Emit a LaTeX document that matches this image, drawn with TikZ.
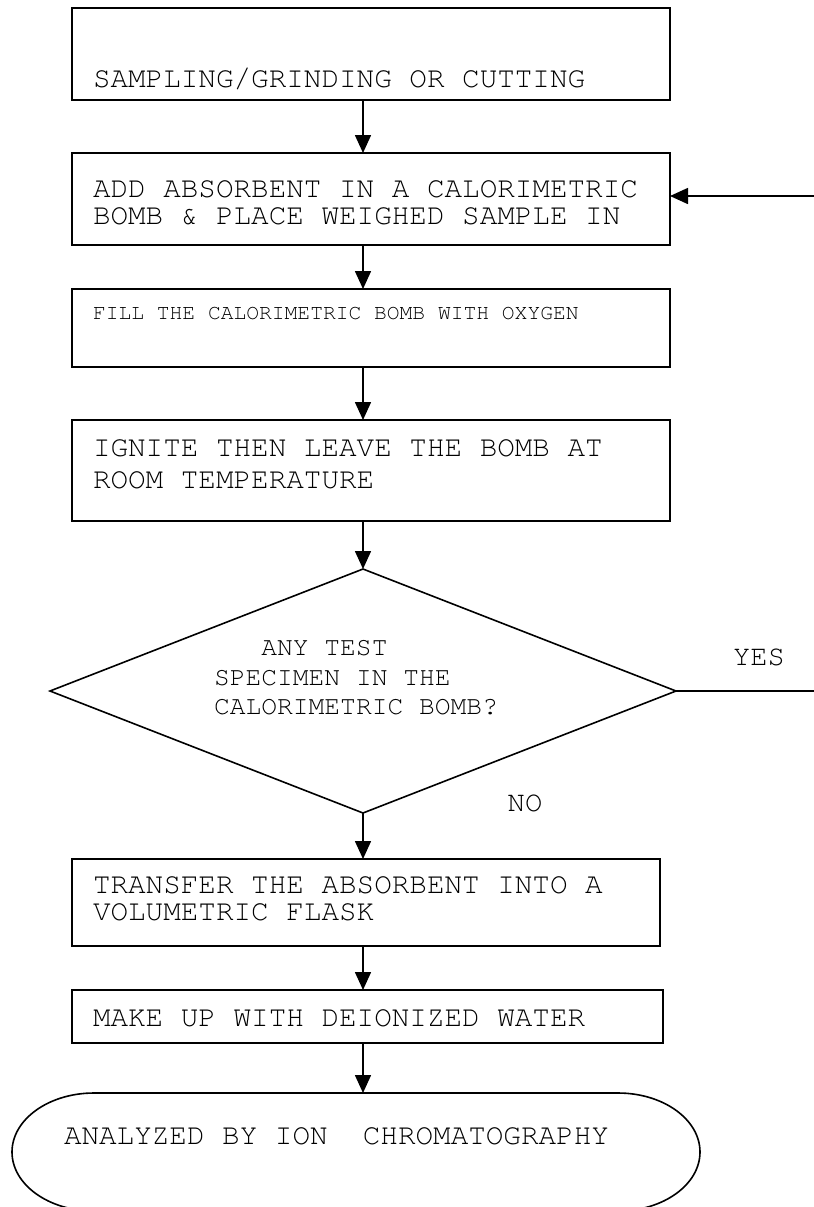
\documentclass[tikz,border=0pt]{standalone}
\usepackage[T1]{fontenc}
\renewcommand{\ttdefault}{pcr}
\usepackage{tikz}
\usetikzlibrary{arrows.meta,positioning,shapes.geometric}
\newcommand{\courier}[2]{\ttfamily\fontsize{#1}{#2}\selectfont}
\newcommand{\gap}{\hspace*{0.6em}}

\begin{document}
\begin{tikzpicture}[-,>={Triangle[length=9pt,width=8pt]},thick,
  proc node/.style={rectangle,draw,outer sep=0pt,inner xsep=10.5pt,inner ysep=0pt,align=left,
    text width=278pt,font=\courier{14.65}{13.5}},
  test node/.style={diamond,draw,outer sep=0pt,aspect=2.57,inner sep=0pt,minimum width=313pt,
    minimum height=122pt,text width=149pt,align=left,font=\courier{13.15}{14.75}},
  stop node/.style={rectangle,outer sep=0pt,inner xsep=26pt,inner ysep=0pt,align=left,
    text width=292pt,minimum height=59pt,font=\courier{14.65}{16}},
  txt node/.style={inner sep=0pt,font=\courier{14.4}{16}}]
  \useasboundingbox (0,0) rectangle (407pt,-603.5pt);

  \node[proc node,anchor=north west,minimum height=46pt,text height=36pt,text depth=2.4pt]
    (b1) at (36pt,-4pt) {SAMPLING/GRINDING\gap OR\gap CUTTING};
  \node[proc node,below=26.5pt of b1.south west,anchor=north west,minimum height=46pt,
    text height=10pt,text depth=11.9pt]
    (b2) {ADD\gap ABSORBENT\gap IN\gap A\gap CALORIMETRIC\\
          BOMB\gap\&\gap PLACE\gap WEIGHED\gap SAMPLE\gap IN};
  \node[proc node,below=22pt of b2.south west,anchor=north west,minimum height=39pt,
    text height=8pt,text depth=17pt,font=\courier{10.65}{12}]
    (b3) {FILL\gap THE\gap CALORIMETRIC\gap BOMB\gap WITH\gap OXYGEN};
  \node[proc node,below=26.5pt of b3.south west,anchor=north west,minimum height=50.5pt,
    text height=10pt,text depth=23.9pt,font=\courier{14.65}{16}]
    (b4) {IGNITE\gap THEN\gap LEAVE\gap THE\gap BOMB\gap AT\\ROOM\gap TEMPERATURE};
  \node[test node,below=24pt of b4.south,xshift=-4pt,text height=10pt,text depth=45.3pt]
    (dec) {\hspace*{1.8em}ANY\gap TEST\\SPECIMEN\gap IN\gap THE\\CALORIMETRIC\gap BOMB?};
  \node[proc node,anchor=north west,yshift=-23pt,minimum height=43.5pt,text width=273pt,
    text height=10pt,text depth=18.9pt]
    (b5) at (dec.south -| b4.west)
    {TRANSFER\gap THE\gap ABSORBENT\gap INTO\gap A\\VOLUMETRIC\gap FLASK};
  \node[proc node,below=22pt of b5.south west,anchor=north west,minimum height=26.5pt,
    text width=274.5pt,text height=10pt,text depth=0.4pt]
    (b6) {MAKE\gap UP\gap WITH\gap DEIONIZED\gap WATER};
  \node[stop node,below=25pt of b6.south west,anchor=north west,xshift=-30pt,
    text height=10pt,text depth=17.4pt]
    (fin) {ANALYZED\gap BY\gap ION\gap\gap CHROMATOGRAPHY};
  \draw ([xshift=41pt]fin.north west) -- ([xshift=-41pt]fin.north east)
    arc[start angle=90,end angle=-90,x radius=41pt,y radius=29.5pt]
    -- ([xshift=41pt]fin.south west)
    arc[start angle=270,end angle=90,x radius=41pt,y radius=29.5pt] -- cycle;

  \node[txt node] (yes) at ([xshift=41.5pt,yshift=17pt]dec.east) {YES};
  \node[txt node] (no) at ([xshift=81pt,yshift=5pt]dec.south) {NO};
  \coordinate (loop) at (410pt,0);

  \path[->]
    (b1.south -| dec.north) edge (b2.north -| dec.north)
    (b2.south -| dec.north) edge (b3.north -| dec.north)
    (b3.south -| dec.north) edge (b4.north -| dec.north)
    (b4.south -| dec.north) edge (dec.north)
    (dec.south) edge (b5.north -| dec.south)
    (b5.south -| dec.north) edge (b6.north -| dec.north)
    (b6.south -| dec.north) edge (fin.north -| dec.north);
  \draw[->] (dec.east) -- (dec.east -| loop) |- ([yshift=1.5pt]b2.east);
\end{tikzpicture}
\end{document}
